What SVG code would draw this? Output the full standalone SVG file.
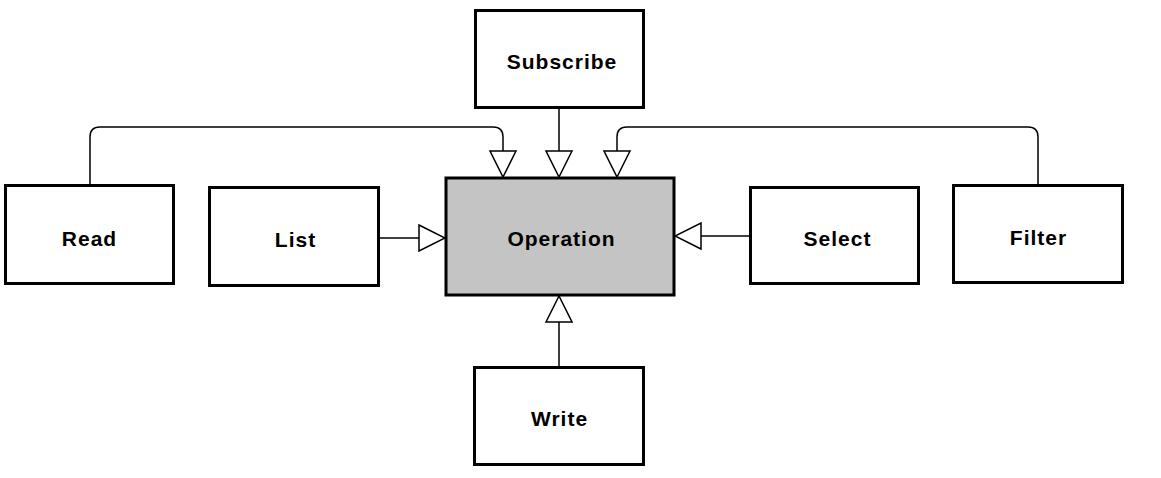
<svg xmlns="http://www.w3.org/2000/svg" width="1161" height="478" viewBox="0 0 1161 478">
<style>
.box{fill:#fff;stroke:#000;stroke-width:3}
.op{fill:#c4c4c4;stroke:#000;stroke-width:3}
.lbl{font-family:"Liberation Sans",Arial,sans-serif;font-weight:bold;font-size:21px;letter-spacing:1px;text-anchor:middle;fill:#000}
.conn{fill:none;stroke:#000;stroke-width:1.5;marker-end:url(#tri)}
</style>
<defs>
<marker id="tri" markerUnits="userSpaceOnUse" viewBox="-1 -1 28 28" markerWidth="28" markerHeight="28" refX="26" refY="13" orient="auto">
<path d="M0,0 L26,13 L0,26 Z" fill="#fff" stroke="#000" stroke-width="1.5" stroke-linejoin="miter"/>
</marker>
</defs>
<rect width="1161" height="478" fill="#fff"/>
<g id="connectors">
<path class="conn" d="M90,185 V137 Q90,127 100,127 H493 Q503,127 503,137 V177"/>
<path class="conn" d="M559,108 V177"/>
<path class="conn" d="M1038,185 V137 Q1038,127 1028,127 H627 Q617,127 617,137 V177"/>
<path class="conn" d="M379,238 H445"/>
<path class="conn" d="M750,236 H675"/>
<path class="conn" d="M559,367 V296"/>
</g>
<g id="operation">
<rect class="op" x="446" y="178" width="228" height="117"/>
<text class="lbl" x="561.5" y="245.5">Operation</text>
</g>
<g id="subscribe">
<rect class="box" x="475.5" y="10.5" width="168" height="97"/>
<text class="lbl" x="562" y="68.5">Subscribe</text>
</g>
<g id="read">
<rect class="box" x="5.5" y="185.5" width="168" height="98"/>
<text class="lbl" x="89.5" y="245.5">Read</text>
</g>
<g id="list">
<rect class="box" x="209.5" y="187.5" width="169" height="98"/>
<text class="lbl" x="295.5" y="246.5">List</text>
</g>
<g id="select">
<rect class="box" x="750.5" y="187.5" width="168" height="96"/>
<text class="lbl" x="837.5" y="245.5">Select</text>
</g>
<g id="filter">
<rect class="box" x="953.5" y="185.5" width="169" height="97"/>
<text class="lbl" x="1038.5" y="244.5">Filter</text>
</g>
<g id="write">
<rect class="box" x="474.5" y="367.5" width="169" height="97"/>
<text class="lbl" x="559.5" y="425.5">Write</text>
</g>
</svg>
